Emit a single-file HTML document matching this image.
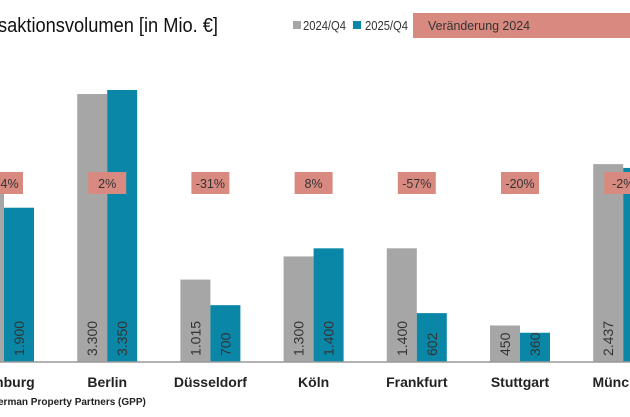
<!DOCTYPE html>
<html><head><meta charset="utf-8"><style>
body{margin:0;width:630px;height:412px;overflow:hidden;background:#fff;font-family:"Liberation Sans",sans-serif}
</style></head><body>
<svg width="630" height="412">
<text x="-2" y="32" font-size="20" fill="#111" textLength="220" lengthAdjust="spacingAndGlyphs">saktionsvolumen [in Mio. €]</text>
<rect x="293" y="21" width="8" height="8" fill="#a6a6a6"/>
<text x="303" y="30" font-size="13" fill="#333" textLength="43" lengthAdjust="spacingAndGlyphs">2024/Q4</text>
<rect x="353" y="21" width="8" height="8" fill="#0a87a6"/>
<text x="365" y="30" font-size="13" fill="#333" textLength="43" lengthAdjust="spacingAndGlyphs">2025/Q4</text>
<rect x="413" y="13" width="217" height="25" fill="#d98a80"/>
<text x="428" y="30" font-size="13" fill="#333" textLength="102" lengthAdjust="spacingAndGlyphs">Veränderung 2024</text>
<g id="plot"></g>
<line x1="0" y1="362" x2="630" y2="362" stroke="#999" stroke-width="1.5"/>
<text x="-2" y="405" font-size="10" font-weight="bold" fill="#222">erman Property Partners (GPP)</text>
</svg>
<script>
const categories=["Hamburg","Berlin","Düsseldorf","Köln","Frankfurt","Stuttgart","München"];
const v2024=[2200,3300,1015,1300,1400,450,2437];
const v2025=[1900,3350,700,1400,602,360,2390];
const changes=["-14%","2%","-31%","8%","-57%","-20%","-2%"];
const labels2024=["","3.300","1.015","1.300","1.400","450","2.437"];
const labels2025=["1.900","3.350","700","1.400","602","360",""];
const NS="http://www.w3.org/2000/svg";
const g=document.getElementById("plot");
const base=362,k=0.0812,bw=30;
const cx=i=>4+i*103.2;
const y=v=>base-v*k;
function mk(t,a){const e=document.createElementNS(NS,t);for(const n in a)e.setAttribute(n,a[n]);g.appendChild(e);return e;}
categories.forEach((c,i)=>{
  const x=cx(i);
  const r1=mk("rect",{x:x-bw,y:y(v2024[i]),width:bw,height:base-y(v2024[i]),fill:"#a6a6a6"});
  
  
  const r2=mk("rect",{x:x,y:y(v2025[i]),width:bw,height:base-y(v2025[i]),fill:"#0a87a6"});
  
  
  [[labels2024[i],x-bw/2],[labels2025[i],x+bw/2]].forEach(([s,px],j)=>{
    if(!s)return;
    const t=mk("text",{x:0,y:0,"font-size":14,fill:"#333","text-anchor":"start",transform:`translate(${px+5},${base-6}) rotate(-90)`});
    t.textContent=s;
    
    
  });
  const b=mk("rect",{x:x-19,y:172,width:38,height:22,fill:"#d98a80"});
  
  
  const ct=mk("text",{x:x,y:188,"font-size":12.5,fill:"#333","text-anchor":"middle"});
  ct.textContent=changes[i];
  
  
  const cl=mk("text",{x:x,y:387,"font-size":14,"font-weight":"bold",fill:"#222","text-anchor":"middle"});
  cl.textContent=c;
  
  
});
</script>
</body></html>
